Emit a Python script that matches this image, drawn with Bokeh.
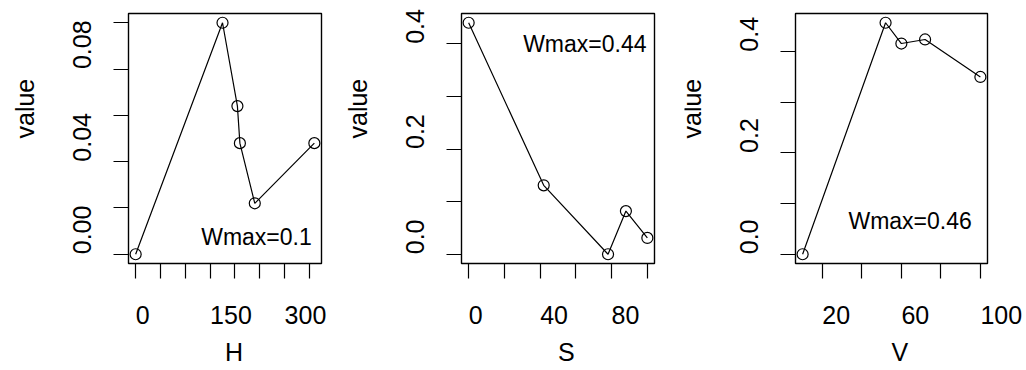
import math
from bokeh.plotting import figure
from bokeh.models import Range1d, FixedTicker, Label, BoxAnnotation
from bokeh.layouts import row
from bokeh.embed import file_html
from bokeh.resources import INLINE

# ---- data ----
h_x = [0, 175, 205, 210, 240, 360]
h_y = [0.0, 0.100, 0.064, 0.048, 0.022, 0.048]
s_x = [0, 42, 78, 88, 100]
s_y = [0.44, 0.131, 0.0, 0.082, 0.031]
v_x = [10, 52, 60, 72, 100]
v_y = [0.0, 0.457, 0.416, 0.424, 0.350]

h_xticks = [0, 50, 100, 150, 200, 250, 300, 350]
h_xlabels = ["0", "150", "300"]
s_xticks = [0, 20, 40, 60, 80, 100]
s_xlabels = ["0", "40", "80"]
v_xticks = [20, 40, 60, 80, 100]
v_xlabels = ["20", "60", "100"]

h_yticks = [0.0, 0.02, 0.04, 0.06, 0.08, 0.10]
h_ylabels = ["0.00", "0.04", "0.08"]
sv_yticks = [0.0, 0.1, 0.2, 0.3, 0.4]
sv_ylabels = ["0.0", "0.2", "0.4"]

x_names = ["H", "S", "V"]
y_name = "value"
wmax_texts = ["Wmax=0.1", "Wmax=0.44", "Wmax=0.46"]

FONT = "Liberation Sans"
FS = "25px"
W, H = 342, 370
BT, BB = 13, 107  # box margins top / bottom (px)
SH = 10           # baseline correction (px)
LW = 1.2


def panel(xs, ys, xticks, xlabels, yticks, ylabels, xname, wtext, wpos, bl, br):
    xpad = 0.04 * (max(xs) - min(xs))
    ypad = 0.04 * (max(ys) - min(ys))
    x0, x1 = min(xs) - xpad, max(xs) + xpad
    y0, y1 = min(ys) - ypad, max(ys) + ypad
    kx = (x1 - x0) / (W - bl - br)
    ky = (y1 - y0) / (H - BT - BB)
    p = figure(width=W, height=H, output_backend="svg", toolbar_location=None,
               title=None,
               x_range=Range1d(x0 - bl * kx, x1 + br * kx),
               y_range=Range1d(y0 - BB * ky, y1 + BT * ky),
               min_border=0)
    p.background_fill_color = "white"
    p.border_fill_color = "white"
    p.outline_line_color = None
    p.grid.visible = False

    p.xaxis.fixed_location = y0
    p.yaxis.fixed_location = x0
    p.xaxis.bounds = (min(xticks), max(xticks))
    p.yaxis.bounds = (min(yticks), max(yticks))
    for ax, ticks in ((p.xaxis, xticks), (p.yaxis, yticks)):
        ax.ticker = FixedTicker(ticks=ticks, minor_ticks=[])
        ax.major_tick_out = 15
        ax.major_tick_in = 0
        ax.major_tick_line_color = "black"
        ax.major_tick_line_width = LW
        ax.minor_tick_line_color = None
        ax.axis_line_color = None
        ax.major_label_text_color = None
        ax.major_label_text_font_size = "1px"

    p.add_layout(BoxAnnotation(left=x0, right=x1, bottom=y0, top=y1,
                               fill_alpha=0, line_color="black",
                               line_alpha=1, line_width=1.4))

    p.line(xs, ys, line_color="black", line_width=LW)
    p.scatter(xs, ys, marker="circle", size=11, fill_color=None,
              line_color="black", line_width=LW)

    for lab in xlabels:
        p.add_layout(Label(x=float(lab), y=y0, y_offset=-61 + SH, text=lab,
                           text_align="left", text_baseline="alphabetic",
                           text_font=FONT, text_font_size=FS, text_color="black"))
    for lab in ylabels:
        p.add_layout(Label(x=x0, x_offset=-37 - SH, y=float(lab), text=lab,
                           angle=math.pi / 2, text_align="left",
                           text_baseline="alphabetic",
                           text_font=FONT, text_font_size=FS, text_color="black"))
    p.add_layout(Label(x=(x0 + x1) / 2, y=y0, y_offset=-98 + SH, text=xname,
                       text_align="left", text_baseline="alphabetic",
                       text_font=FONT, text_font_size=FS, text_color="black"))
    p.add_layout(Label(x=x0, x_offset=-94 - SH, y=(y0 + y1) / 2, text=y_name,
                       angle=math.pi / 2, text_align="left",
                       text_baseline="alphabetic",
                       text_font=FONT, text_font_size=FS, text_color="black"))
    p.add_layout(Label(x=wpos[0], y=wpos[1], y_offset=SH, text=wtext,
                       text_align="left", text_baseline="alphabetic",
                       text_font=FONT, text_font_size="23px",
                       text_color="black"))
    return p


p1 = panel(h_x, h_y, h_xticks, h_xlabels, h_yticks, h_ylabels, x_names[0],
           wmax_texts[0], (132, 0.0032), 128, 21)
p2 = panel(s_x, s_y, s_xticks, s_xlabels, sv_yticks, sv_ylabels, x_names[1],
           wmax_texts[1], (30.5, 0.38), 119, 30)
p3 = panel(v_x, v_y, v_xticks, v_xlabels, sv_yticks, sv_ylabels, x_names[2],
           wmax_texts[2], (33.2, 0.0455), 111, 39)

layout = row(p1, p2, p3)
open("out.html", "w").write(file_html(layout, INLINE))
